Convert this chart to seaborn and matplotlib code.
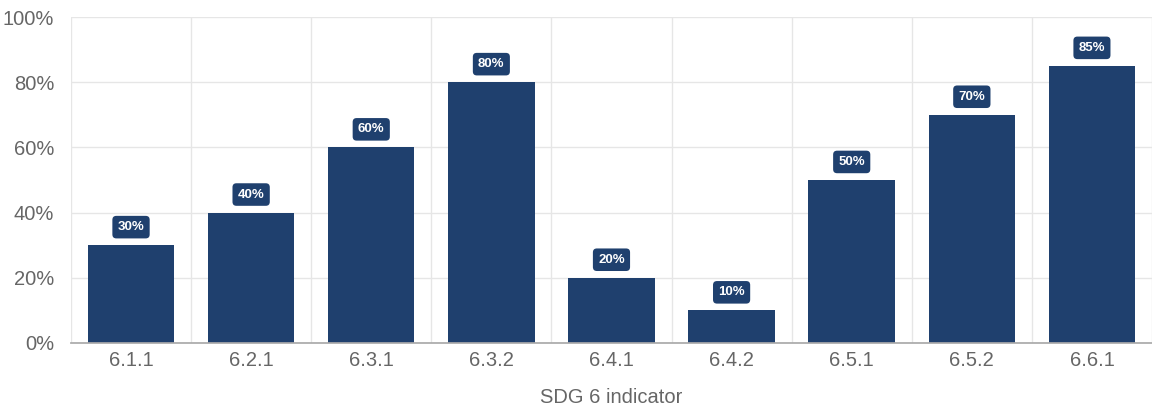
import numpy as np
import pandas as pd
import seaborn as sns
import matplotlib.pyplot as plt
from matplotlib.ticker import FixedLocator, PercentFormatter

indicators = ["6.1.1", "6.2.1", "6.3.1", "6.3.2", "6.4.1", "6.4.2", "6.5.1", "6.5.2", "6.6.1"]
scores = [30, 40, 60, 80, 20, 10, 50, 70, 85]

bar_color = "#1f406e"
grid_color = "#e6e6e6"
text_color = "#666666"

sns.set_theme(style="white")
plt.rcParams["font.family"] = ["Liberation Sans", "DejaVu Sans"]

df = pd.DataFrame({"indicator": indicators, "score": scores})

fig = plt.figure(figsize=(11.52, 4.11), dpi=100)
ax = fig.add_axes([0.0616, 0.1655, 0.9384, 0.7931])

sns.barplot(data=df, x="indicator", y="score", color=bar_color, width=0.72,
            saturation=1, linewidth=0, ax=ax, zorder=3)

ax.set_ylim(0, 100)
ax.set_xlim(-0.5, len(indicators) - 0.5)
ax.set_yticks(range(0, 101, 20))
ax.yaxis.set_major_formatter(PercentFormatter(decimals=0))

# vertical grid at category boundaries
ax.xaxis.set_minor_locator(FixedLocator(np.arange(-0.5, len(indicators), 1)))
ax.grid(axis="x", which="minor", color=grid_color, lw=1, zorder=0)
ax.grid(axis="y", which="major", color=grid_color, lw=1, zorder=0)
ax.tick_params(axis="x", which="minor", length=12, color=grid_color, width=1)
ax.tick_params(axis="x", which="major", length=0, pad=6, labelsize=14.5, labelcolor=text_color)
ax.tick_params(axis="y", which="major", length=9, color=grid_color, width=1,
               pad=3, labelsize=14.5, labelcolor=text_color)

for side in ["top", "right", "left"]:
    ax.spines[side].set_visible(False)
ax.spines["bottom"].set_color("#aaaaaa")
ax.spines["bottom"].set_zorder(4)

ax.set_ylabel("")
ax.set_xlabel("SDG 6 indicator", fontsize=14.5, color=text_color, labelpad=13)

for i, v in enumerate(scores):
    ax.annotate(f"{v}%", xy=(i, v), xytext=(0, 13), textcoords="offset points",
                ha="center", va="center", fontsize=9.5, fontweight="bold", color="white",
                bbox=dict(boxstyle="round,pad=0.4,rounding_size=0.3", fc=bar_color,
                          ec="none"), zorder=5)

fig.savefig("out.png", dpi=100)
